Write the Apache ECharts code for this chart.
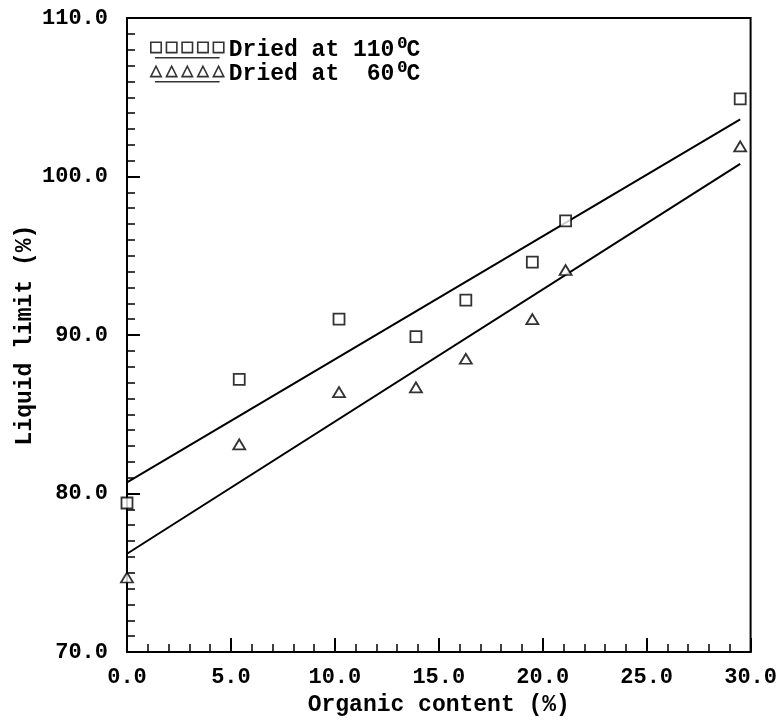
<!DOCTYPE html>
<html>
<head>
<meta charset="utf-8">
<script src="https://cdn.jsdelivr.net/npm/echarts@6/dist/echarts.min.js"></script>
<style>html,body{margin:0;padding:0;background:#fff}#c{width:780px;height:723px}</style>
</head>
<body>
<div id="c"></div>
<script>
// Data
var organicContent = [0.0, 5.4, 10.2, 13.9, 16.3, 19.5, 21.1, 29.5];
var dried110 = [79.4, 87.2, 91.0, 89.9, 92.2, 94.6, 97.2, 104.9];
var dried60  = [74.7, 83.1, 86.4, 86.7, 88.5, 91.0, 94.1, 101.9];
// Fitted line end points
var fitX = [0.0, 29.5];
var fit110 = [80.7, 103.6];
var fit60  = [76.2, 100.8];
var seriesNames = ['Dried at 110\u00B0C', 'Dried at 60\u00B0C'];
var xTicks = [0, 5, 10, 15, 20, 25, 30];
var yTicks = [70, 80, 90, 100, 110];

function pairs(xs, ys) { return xs.map(function (x, i) { return [x, ys[i]]; }); }

var FONT = 'Liberation Mono';
var sqIcon = 'path://M0,0h10v10h-10z M15,0h10v10h-10z M30,0h10v10h-10z M45,0h10v10h-10z M60,0h10v10h-10z M4,15H66';
var trIcon = 'path://M0,10L5,0L10,10Z M15,10L20,0L25,10Z M30,10L35,0L40,10Z M45,10L50,0L55,10Z M60,10L65,0L70,10Z M4,15H66';

var chart = echarts.init(document.getElementById('c'), null, {renderer: 'canvas'});
chart.setOption({
  backgroundColor: '#fff',
  animation: false,
  grid: {left: 127, right: 28, top: 18, bottom: 71, show: true, borderColor: '#000', borderWidth: 2},
  legend: {
    orient: 'vertical', left: 145, top: 32, itemGap: -2,
    itemWidth: 73, itemHeight: 16, selectedMode: false,
    data: [
      {name: seriesNames[0], icon: sqIcon, itemStyle: {color: '#fff', borderColor: '#000', borderWidth: 1.6}},
      {name: seriesNames[1], icon: trIcon, itemStyle: {color: '#fff', borderColor: '#000', borderWidth: 1.6}}
    ],
    formatter: function (n) {
      return n === seriesNames[0] ? '{a|Dried at 110}{s|\u2070}{a|C}' : '{a|Dried at  60}{s|\u2070}{a|C}';
    },
    textStyle: {
      fontFamily: FONT, color: '#000',
      rich: {
        a: {fontFamily: FONT, fontSize: 23, fontWeight: 'bold', color: '#000', lineHeight: 22},
        s: {fontFamily: 'DejaVu Sans Mono', fontSize: 26, fontWeight: 'bold', color: '#000', lineHeight: 22, width: 12}
      }
    }
  },
  xAxis: {
    type: 'value', min: 0, max: 30, interval: 5,
    name: 'Organic content (%)', nameLocation: 'middle', nameGap: 42, nameMoveOverlap: false,
    nameTextStyle: {fontFamily: FONT, fontSize: 23, fontWeight: 'bold', color: '#000'},
    axisLine: {lineStyle: {color: '#000', width: 2}},
    axisTick: {inside: true, length: 14, lineStyle: {color: '#000', width: 2}},
    minorTick: {show: true, splitNumber: 5, length: 8, lineStyle: {color: '#000', width: 1.5}},
    splitLine: {show: false},
    axisLabel: {fontFamily: FONT, fontSize: 22, fontWeight: 'bold', color: '#000', margin: 14,
      formatter: function (v) { return v.toFixed(1); },
      customValues: xTicks}
  },
  yAxis: {
    type: 'value', min: 70, max: 110, interval: 10,
    name: 'Liquid limit (%)', nameLocation: 'middle', nameGap: 90, nameMoveOverlap: false,
    nameTextStyle: {fontFamily: FONT, fontSize: 23, fontWeight: 'bold', color: '#000'},
    axisLine: {lineStyle: {color: '#000', width: 2}},
    axisTick: {inside: true, length: 13, lineStyle: {color: '#000', width: 2}},
    minorTick: {show: true, splitNumber: 10, length: 8, lineStyle: {color: '#000', width: 1.5}},
    splitLine: {show: false},
    axisLabel: {fontFamily: FONT, fontSize: 22, fontWeight: 'bold', color: '#000', margin: 19,
      formatter: function (v) { return v.toFixed(1); },
      customValues: yTicks}
  },
  series: [
    {name: seriesNames[0], type: 'scatter', symbol: 'rect', symbolSize: 11,
     itemStyle: {color: '#fff', borderColor: '#000', borderWidth: 1.8},
     data: pairs(organicContent, dried110), z: 3},
    {name: seriesNames[1], type: 'scatter', symbol: 'triangle', symbolSize: [12, 10],
     itemStyle: {color: '#fff', borderColor: '#000', borderWidth: 1.8},
     data: pairs(organicContent, dried60), z: 3},
    {name: 'fit110', type: 'line', showSymbol: false, symbol: 'none',
     lineStyle: {color: '#000', width: 2}, data: pairs(fitX, fit110), z: 2},
    {name: 'fit60', type: 'line', showSymbol: false, symbol: 'none',
     lineStyle: {color: '#000', width: 2}, data: pairs(fitX, fit60), z: 2}
  ]
});
</script>
</body>
</html>
